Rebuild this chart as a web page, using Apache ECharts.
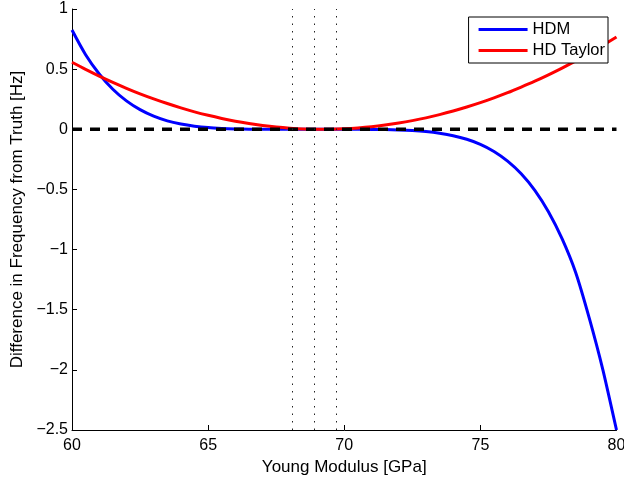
<!DOCTYPE html>
<html>
<head>
<meta charset="utf-8">
<script src="https://cdn.jsdelivr.net/npm/echarts@6/dist/echarts.min.js"></script>
<style>
html,body{margin:0;padding:0;background:#fff;}
#chart{width:624px;height:481px;}
</style>
</head>
<body>
<div id="chart"></div>
<script>
// Young modulus sample points [GPa]
const xValues = [60,60.5,61,61.5,62,62.5,63,63.5,64,64.5,65,65.5,66,66.5,67,67.5,68,68.5,69,69.5,70,70.5,71,71.5,72,72.5,73,73.5,74,74.5,75,75.5,76,76.5,77,77.5,78,78.5,79,79.5,80];
// HDM frequency difference [Hz]
const hdmValues = [0.825,0.62,0.46,0.333,0.236,0.163,0.109,0.070,0.044,0.026,0.014,0.0073,0.0033,0.0013,0.0004,0.0001,0,0,0,0,-0.0001,-0.0004,-0.0011,-0.0027,-0.0056,-0.0108,-0.0193,-0.0328,-0.053,-0.083,-0.125,-0.184,-0.264,-0.369,-0.507,-0.685,-0.909,-1.19,-1.57,-2.0,-2.5];
// HD Taylor frequency difference [Hz]
const taylorValues = [0.557,0.498,0.442,0.390,0.341,0.295,0.253,0.214,0.178,0.145,0.116,0.090,0.067,0.048,0.032,0.019,0.0095,0.0032,0.0003,0.0006,0.0042,0.011,0.021,0.035,0.052,0.072,0.095,0.122,0.152,0.185,0.221,0.261,0.304,0.351,0.400,0.453,0.509,0.569,0.632,0.698,0.767];
// reference line and vertical markers
const zeroX = [60, 80];
const zeroY = [0, 0];
const markerX = [68.1, 68.9, 69.7];
const xTicks = [60, 65, 70, 75, 80];
const yTicks = [-2.5, -2, -1.5, -1, -0.5, 0, 0.5, 1];

const zip = (xs, ys) => xs.map((x, i) => [x, ys[i]]);
const font = 'Liberation Sans, Arial, Helvetica, sans-serif';

const chart = echarts.init(document.getElementById('chart'), null, {renderer: 'canvas'});
chart.setOption({
  animation: false,
  backgroundColor: '#fff',
  grid: {left: 72, right: 7.5, top: 9, bottom: 51, containLabel: false, outerBoundsMode: 'none'},
  legend: {
    data: ['HDM', 'HD Taylor'],
    orient: 'vertical',
    right: 16, top: 17,
    icon: 'rect', itemWidth: 49, itemHeight: 3, itemGap: 4,
    padding: [4, 3, 4, 10],
    backgroundColor: '#fff', borderColor: '#000', borderWidth: 1,
    textStyle: {fontFamily: font, fontSize: 16.5, color: '#000'}
  },
  xAxis: {
    type: 'value', min: xTicks[0], max: xTicks[xTicks.length - 1], interval: 5,
    name: 'Young Modulus [GPa]', nameLocation: 'middle', nameGap: 26,
    nameTextStyle: {fontFamily: font, fontSize: 17, color: '#000'},
    axisLine: {show: true, onZero: false, lineStyle: {color: '#000', width: 1}},
    axisTick: {show: true, inside: true, length: 5, lineStyle: {color: '#000'}},
    axisLabel: {fontFamily: font, fontSize: 16, color: '#000', margin: 8},
    splitLine: {show: false}
  },
  yAxis: {
    type: 'value', min: yTicks[0], max: yTicks[yTicks.length - 1], interval: 0.5,
    name: 'Difference in Frequency from Truth [Hz]', nameLocation: 'middle', nameGap: 45,
    nameTextStyle: {fontFamily: font, fontSize: 17, color: '#000'},
    axisLine: {show: true, onZero: false, lineStyle: {color: '#000', width: 1}},
    axisTick: {show: true, inside: true, length: 5, lineStyle: {color: '#000'}},
    axisLabel: {fontFamily: font, fontSize: 16, color: '#000', margin: 4,
      formatter: v => String(v).replace('-', '\u2212')},
    splitLine: {show: false}
  },
  series: [
    {
      name: 'HDM', type: 'line', data: zip(xValues, hdmValues),
      showSymbol: false, smooth: 0.3, color: '#0000ff',
      lineStyle: {color: '#0000ff', width: 3}, z: 2
    },
    {
      name: 'HD Taylor', type: 'line', data: zip(xValues, taylorValues),
      showSymbol: false, smooth: 0.3, color: '#ff0000',
      lineStyle: {color: '#ff0000', width: 3}, z: 3
    },
    {
      name: 'zero', type: 'line', data: zip(zeroX, zeroY),
      showSymbol: false, z: 4,
      lineStyle: {color: '#000', width: 3.5, type: [10, 8]},
      markLine: {
        silent: true, symbol: 'none', label: {show: false},
        lineStyle: {color: '#222', width: 1, type: [1.5, 6]},
        data: markerX.map(x => ({xAxis: x}))
      }
    }
  ]
});
</script>
</body>
</html>
